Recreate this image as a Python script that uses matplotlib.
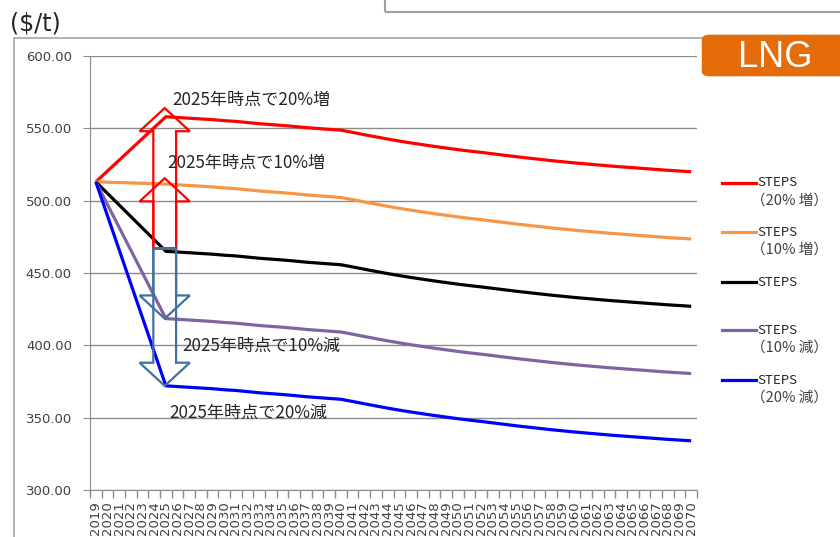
import numpy as np
import matplotlib.pyplot as plt
from matplotlib.lines import Line2D
from matplotlib.patches import FancyArrow, Rectangle, FancyBboxPatch

# Years on the category axis (2019-2070)
years = list(range(2019, 2071))
# Years with data: 2019, then 2025 onwards
data_years = [2019] + list(range(2025, 2071))

steps_up20 = [513.0,
              558.0, 557.5, 557.0, 556.5, 556.0, 555.3, 554.8, 554.0, 553.2, 552.6,
              552.0, 551.3, 550.5, 549.9, 549.3, 548.7, 547.2, 545.6, 544.1, 542.6,
              541.2, 539.9, 538.7, 537.5, 536.4, 535.3, 534.3, 533.4, 532.4, 531.4,
              530.4, 529.5, 528.6, 527.7, 526.9, 526.1, 525.4, 524.7, 524.0, 523.4,
              522.8, 522.2, 521.6, 521.0, 520.5, 520.0]
steps_up10 = [513.0,
              511.5, 511.0, 510.5, 510.0, 509.5, 508.8, 508.3, 507.5, 506.7, 506.1,
              505.5, 504.8, 504.0, 503.4, 502.8, 502.2, 500.7, 499.1, 497.6, 496.1,
              494.7, 493.4, 492.2, 491.0, 489.9, 488.8, 487.8, 486.9, 485.9, 484.9,
              483.9, 483.0, 482.1, 481.2, 480.4, 479.6, 478.9, 478.2, 477.5, 476.9,
              476.3, 475.7, 475.1, 474.5, 474.0, 473.5]
steps = [513.0,
         465.0, 464.5, 464.0, 463.5, 463.0, 462.3, 461.8, 461.0, 460.2, 459.6,
         459.0, 458.3, 457.5, 456.9, 456.3, 455.7, 454.2, 452.6, 451.1, 449.6,
         448.2, 446.9, 445.7, 444.5, 443.4, 442.3, 441.3, 440.4, 439.4, 438.4,
         437.4, 436.5, 435.6, 434.7, 433.9, 433.1, 432.4, 431.7, 431.0, 430.4,
         429.8, 429.2, 428.6, 428.0, 427.5, 427.0]
steps_dn10 = [513.0,
              418.5, 418.0, 417.5, 417.0, 416.5, 415.8, 415.3, 414.5, 413.7, 413.1,
              412.5, 411.8, 411.0, 410.4, 409.8, 409.2, 407.7, 406.1, 404.6, 403.1,
              401.7, 400.4, 399.2, 398.0, 396.9, 395.8, 394.8, 393.9, 392.9, 391.9,
              390.9, 390.0, 389.1, 388.2, 387.4, 386.6, 385.9, 385.2, 384.5, 383.9,
              383.3, 382.7, 382.1, 381.5, 381.0, 380.5]
steps_dn20 = [513.0,
              372.0, 371.5, 371.0, 370.5, 370.0, 369.3, 368.8, 368.0, 367.2, 366.6,
              366.0, 365.3, 364.5, 363.9, 363.3, 362.7, 361.2, 359.6, 358.1, 356.6,
              355.2, 353.9, 352.7, 351.5, 350.4, 349.3, 348.3, 347.4, 346.4, 345.4,
              344.4, 343.5, 342.6, 341.7, 340.9, 340.1, 339.4, 338.7, 338.0, 337.4,
              336.8, 336.2, 335.6, 335.0, 334.5, 334.0]

series = [
    (steps_up20, "#FF0000", "STEPS", "（20% 増）"),
    (steps_up10, "#F79646", "STEPS", "（10% 増）"),
    (steps, "#000000", "STEPS", ""),
    (steps_dn10, "#8064A2", "STEPS", "（10% 減）"),
    (steps_dn20, "#0000FF", "STEPS", "（20% 減）"),
]

jp = ["Noto Sans CJK JP", "DejaVu Sans"]

W, H = 840, 537
fig = plt.figure(figsize=(W / 100, H / 100), dpi=100)


def fx(x):
    return x / W


def fy(y):
    return 1 - y / H


# outer chart frame and the box above it
fig.add_artist(Rectangle((fx(14), fy(560)), fx(850 - 14), fy(38) - fy(560),
                         transform=fig.transFigure, fill=False, ec="#A6A6A6", lw=1.2))
fig.add_artist(Rectangle((fx(385), fy(12)), fx(470), fy(-10) - fy(12),
                         transform=fig.transFigure, fill=False, ec="#A0A0A0", lw=1.5))

ax = fig.add_axes([fx(90), fy(490), fx(697 - 90), fy(56) - fy(490)])

x_pos = [y - years[0] for y in data_years]
for vals, color, _, _ in series:
    ax.plot(x_pos, vals, color=color, lw=2.3, solid_capstyle="butt", zorder=3)

ax.set_xlim(-0.5, len(years) - 0.5)
ax.set_ylim(300, 600)
ax.set_yticks(np.arange(300, 601, 50))
ax.set_yticklabels([f"{v:.2f}" for v in np.arange(300, 601, 50)])
ax.yaxis.grid(True, color="#8C8C8C", lw=1)
ax.set_axisbelow(True)

# category labels at centres, tick marks at the boundaries
ax.set_xticks(np.arange(len(years)))
ax.set_xticklabels([str(y) for y in years], rotation=90)
ax.set_xticks(np.arange(-0.5, len(years)), minor=True)
ax.tick_params(axis="x", which="major", length=0, pad=8, labelsize=9.5, labelcolor="#404040")
ax.tick_params(axis="x", which="minor", length=6, color="#8C8C8C", width=1)
ax.tick_params(axis="y", length=5, color="#8C8C8C", pad=8, labelsize=9.5, labelcolor="#404040")

for side in ["top", "right"]:
    ax.spines[side].set_visible(False)
for side in ["left", "bottom"]:
    ax.spines[side].set_color("#8C8C8C")

# hollow arrows from the STEPS 2025 value to each case
i25 = data_years.index(2025)
x25 = 2025 - years[0]
for target, color, extra in [(steps_up20[i25], "#FF0000", 6), (steps_up10[i25], "#FF0000", 4),
                             (steps_dn10[i25], "#41719C", 0), (steps_dn20[i25], "#41719C", 0)]:
    start = steps[i25] + 2
    arr = FancyArrow(x25 - 0.1, start, 0, target + extra - start, width=1.95,
                     head_width=4.3, head_length=16, length_includes_head=True,
                     fill=False, ec=color, lw=1.6, zorder=4)
    ax.add_patch(arr)

txt = dict(family=jp, fontsize=12.3, color="#262626", va="center", zorder=5)
ax.text(6.55, 569.5, "2025年時点で20%増", **txt)
ax.text(6.15, 526.5, "2025年時点で10%増", **txt)
ax.text(7.4, 399.5, "2025年時点で10%減", **txt)
ax.text(6.3, 353.5, "2025年時点で20%減", **txt)

# unit label
fig.text(fx(10), fy(23), "($/t)", fontsize=17, color="#262626", va="center", ha="left")

# LNG badge
fig.add_artist(FancyBboxPatch((fx(705), fy(74)), fx(150), fy(37) - fy(74),
                              boxstyle="round,pad=0.003,rounding_size=0.008",
                              transform=fig.transFigure, fc="#E46C0A", ec="#E46C0A"))
fig.text(fx(775), fy(57), "LNG", fontsize=26, color="white", ha="center", va="center",
         family="Liberation Sans")

# legend on the right
legend_y = [183, 232, 282, 330, 380]
for (vals, color, name, sub), ly in zip(series, legend_y):
    fig.add_artist(Line2D([fx(722), fx(756)], [fy(ly), fy(ly)], color=color, lw=2.3,
                          transform=fig.transFigure))
    fig.text(fx(757), fy(ly), name, family=jp, fontsize=9.5, color="#262626", va="center")
    if sub:
        fig.text(fx(751), fy(ly + 18), sub, family=jp, fontsize=10.5, color="#404040", va="center")

fig.savefig("out.png", dpi=100)
